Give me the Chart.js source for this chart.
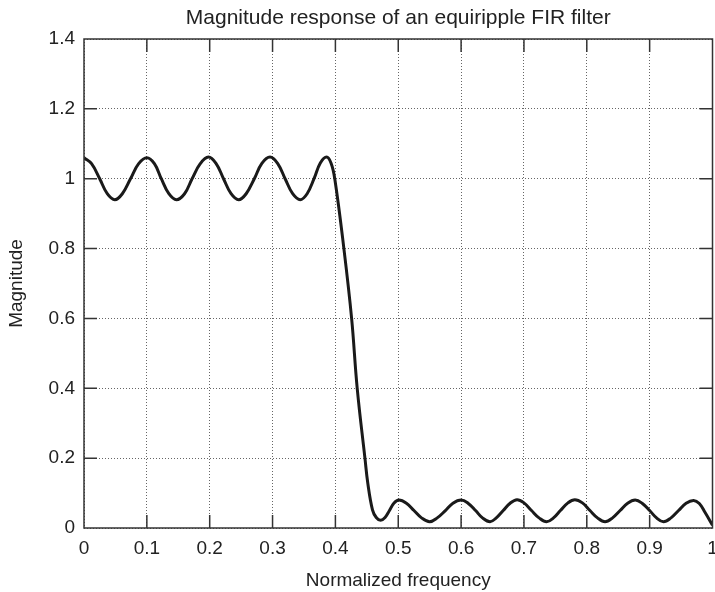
<!DOCTYPE html>
<html>
<head>
<meta charset="utf-8">
<script src="https://cdn.jsdelivr.net/npm/chart.js@4"></script>
<style>
  html, body { margin: 0; padding: 0; background: #fff; }
  #chart { display: block; }
</style>
</head>
<body>
<canvas id="chart" width="715" height="592"></canvas>
<script>
// Data (passband ripple, transition, stopband ripple)
const freq = [
  0, 0.012, 0.025, 0.037, 0.049, 0.061, 0.074, 0.087, 0.100, 0.112,
  0.123, 0.135, 0.147, 0.160, 0.172, 0.185, 0.198, 0.210, 0.222, 0.234,
  0.246, 0.258, 0.271, 0.283, 0.296, 0.308, 0.320, 0.332, 0.344, 0.355,
  0.366, 0.376, 0.386, 0.393, 0.399, 0.4135, 0.4258, 0.4347, 0.447, 0.4515,
  0.459, 0.465, 0.472, 0.479, 0.486, 0.493, 0.501, 0.513, 0.525, 0.537,
  0.550, 0.562, 0.575, 0.587, 0.600, 0.611, 0.623, 0.634, 0.646, 0.656,
  0.667, 0.678, 0.689, 0.700, 0.712, 0.724, 0.736, 0.747, 0.758, 0.770,
  0.781, 0.793, 0.805, 0.817, 0.829, 0.841, 0.853, 0.865, 0.877, 0.888,
  0.900, 0.911, 0.922, 0.934, 0.946, 0.958, 0.970, 0.979, 0.988, 1.0
];
const mag = [
  1.06, 1.043, 1.0, 0.957, 0.94, 0.957, 1.0, 1.043, 1.06, 1.043,
  1.0, 0.957, 0.94, 0.957, 1.0, 1.043, 1.062, 1.044, 1.0, 0.957,
  0.94, 0.957, 1.0, 1.044, 1.062, 1.044, 1.0, 0.957, 0.94, 0.957,
  1.0, 1.045, 1.062, 1.045, 1.0, 0.8, 0.6, 0.4, 0.2, 0.129,
  0.052, 0.03, 0.022, 0.03, 0.05, 0.071, 0.08, 0.071, 0.05, 0.029,
  0.018, 0.029, 0.05, 0.071, 0.08, 0.071, 0.05, 0.029, 0.018, 0.029,
  0.05, 0.071, 0.081, 0.072, 0.05, 0.029, 0.018, 0.029, 0.05, 0.072,
  0.081, 0.072, 0.05, 0.029, 0.018, 0.029, 0.05, 0.071, 0.08, 0.071,
  0.05, 0.029, 0.018, 0.029, 0.05, 0.071, 0.079, 0.07, 0.045, 0.008
];

const xTicks = [0, 0.1, 0.2, 0.3, 0.4, 0.5, 0.6, 0.7, 0.8, 0.9, 1];
const xTickLabels = ["0", "0.1", "0.2", "0.3", "0.4", "0.5", "0.6", "0.7", "0.8", "0.9", "1"];
const yTicks = [0, 0.2, 0.4, 0.6, 0.8, 1, 1.2, 1.4];
const yTickLabels = ["0", "0.2", "0.4", "0.6", "0.8", "1", "1.2", "1.4"];

const FONT = "'Liberation Sans', Arial, Helvetica, sans-serif";

//! inner tick marks on all four sides + frame
const framePlugin = {
  id: "frame",
  afterDraw(chart) {
    const { ctx, chartArea: a, scales } = chart;
    const len = 13;
    ctx.save();
    ctx.strokeStyle = "#333";
    ctx.lineWidth = 1.5;
    ctx.beginPath();
    xTicks.forEach((v, i) => {
      if (i === 0 || i === xTicks.length - 1) return;
      const x = scales.x.getPixelForValue(v);
      ctx.moveTo(x, a.bottom); ctx.lineTo(x, a.bottom - len);
      ctx.moveTo(x, a.top); ctx.lineTo(x, a.top + len);
    });
    yTicks.forEach((v, i) => {
      if (i === 0 || i === yTicks.length - 1) return;
      const y = scales.y.getPixelForValue(v);
      ctx.moveTo(a.left, y); ctx.lineTo(a.left + len, y);
      ctx.moveTo(a.right, y); ctx.lineTo(a.right - len, y);
    });
    ctx.stroke();
    ctx.strokeRect(a.left, a.top, a.right - a.left, a.bottom - a.top);
    ctx.restore();
  }
};

new Chart(document.getElementById("chart"), {
  type: "line",
  data: {
    datasets: [
      {
        data: freq.map((f, i) => ({ x: f, y: mag[i] })),
        borderColor: "#1a1a1a",
        borderWidth: 3,
        pointRadius: 0,
        fill: false,
        tension: 0.4,
      },
    ],
  },
  options: {
    responsive: false,
    devicePixelRatio: 1,
    animation: false,
    layout: { padding: { top: 0, right: 2.5, bottom: 0, left: 0 } },
    plugins: {
      legend: { display: false },
      tooltip: { enabled: false },
      title: {
        display: true,
        text: "Magnitude response of an equiripple FIR filter",
        color: "#222",
        fullSize: false,
        font: { family: FONT, size: 21, weight: "normal" },
        padding: { top: 5.4, bottom: 8.4 },
      },
    },
    scales: {
      x: {
        type: "linear",
        min: 0,
        max: 1,
        afterFit: (s) => { s.height = 64; s.paddingLeft = 0; s.paddingRight = 0; },
        afterBuildTicks: (s) => { s.ticks = xTicks.map((v) => ({ value: v })); },
        ticks: {
          color: "#222",
          font: { family: FONT, size: 19 },
          padding: 9,
          maxRotation: 0,
          autoSkip: false,
          callback: (v) => xTickLabels[xTicks.indexOf(v)],
        },
        grid: { color: "#666", lineWidth: 1, drawTicks: false },
        border: { display: false, dash: [1, 2] },
        title: {
          display: true,
          text: "Normalized frequency",
          color: "#222",
          font: { family: FONT, size: 19 },
          padding: { top: 0, bottom: 0 },
        },
      },
      y: {
        type: "linear",
        min: 0,
        max: 1.4,
        afterFit: (s) => { s.width = 84; s.paddingTop = 0; s.paddingBottom = 0; },
        afterBuildTicks: (s) => { s.ticks = yTicks.map((v) => ({ value: v })); },
        ticks: {
          color: "#222",
          font: { family: FONT, size: 19 },
          padding: 9,
          autoSkip: false,
          callback: (v) => yTickLabels[yTicks.indexOf(v)],
        },
        grid: { color: "#666", lineWidth: 1, drawTicks: false },
        border: { display: false, dash: [1, 2] },
        title: {
          display: true,
          text: "Magnitude",
          color: "#222",
          font: { family: FONT, size: 19 },
          padding: { top: 5, bottom: 0 },
        },
      },
    },
  },
  plugins: [framePlugin],
});
</script>
</body>
</html>
